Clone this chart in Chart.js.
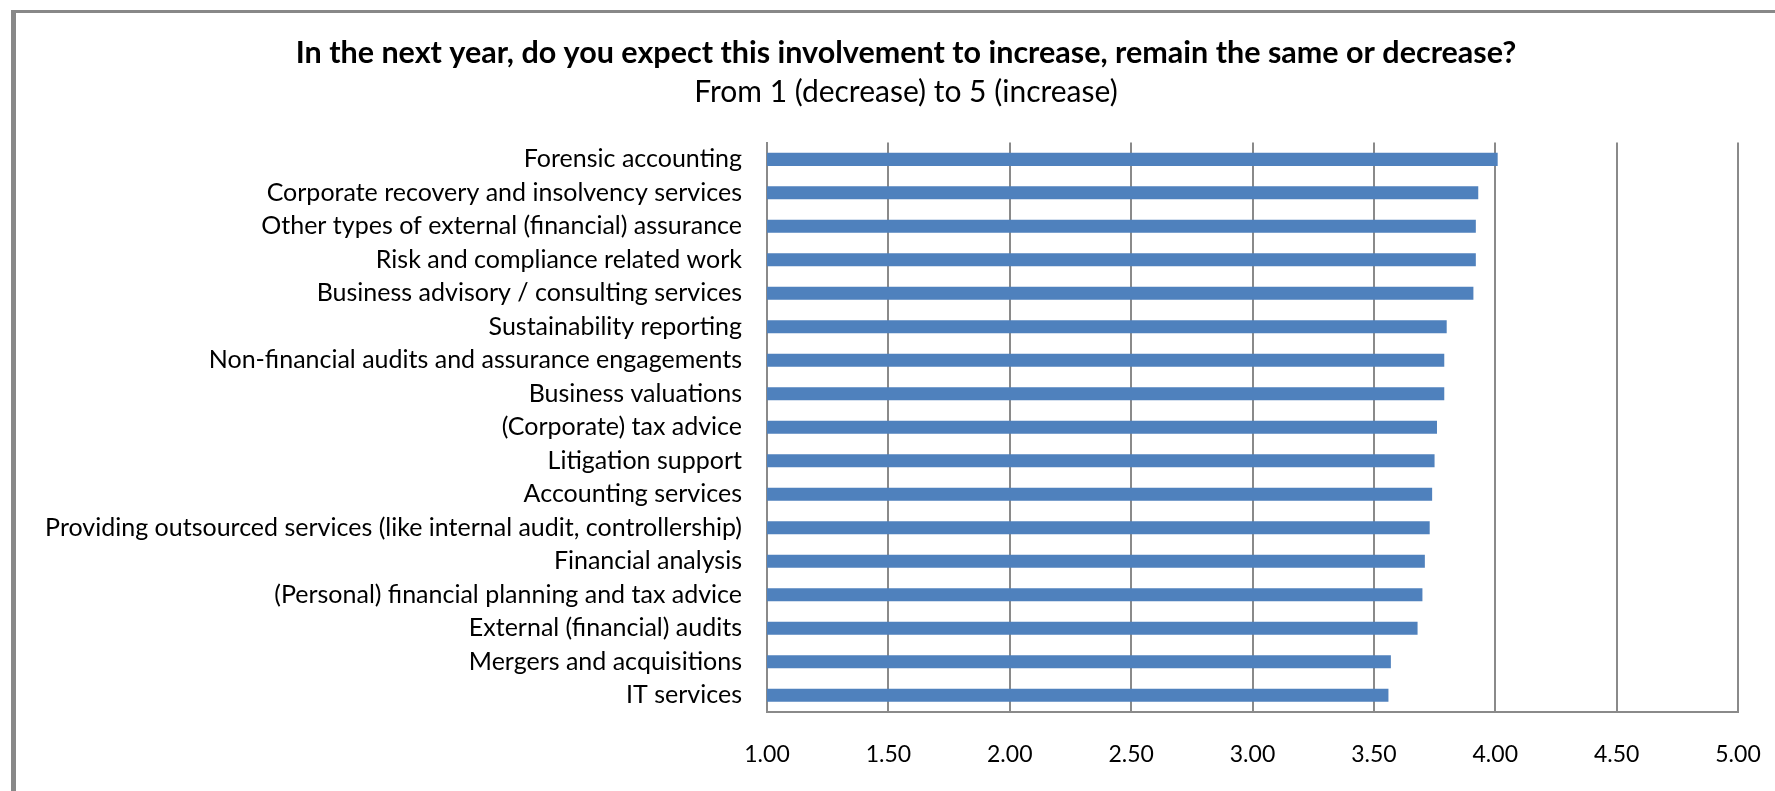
<!DOCTYPE html>
<html>
<head>
<meta charset="utf-8">
<script src="https://cdn.jsdelivr.net/npm/chart.js@4/dist/chart.umd.min.js"></script>
<style>
  html, body { margin: 0; padding: 0; background: #fff; overflow: hidden; }
  #frame {
    position: absolute; left: 11px; top: 10px; width: 2000px; height: 2000px;
    border-left: 5px solid #888; border-top: 3px solid #888; background: #fff;
  }
  #chart-wrap { position: absolute; left: 0; top: 0; width: 1775px; height: 791px; }
</style>
</head>
<body>
<div id="frame"></div>
<div id="chart-wrap"><canvas id="involvement-chart" width="1775" height="791"></canvas></div>
<script>
// survey answers, top to bottom as they appear in the chart
const categories = [
    'Forensic accounting',
    'Corporate recovery and insolvency services',
    'Other types of external (financial) assurance',
    'Risk and compliance related work',
    'Business advisory / consulting services',
    'Sustainability reporting',
    'Non-financial audits and assurance engagements',
    'Business valuations',
    '(Corporate) tax advice',
    'Litigation support',
    'Accounting services',
    'Providing outsourced services (like internal audit, controllership)',
    'Financial analysis',
    '(Personal) financial planning and tax advice',
    'External (financial) audits',
    'Mergers and acquisitions',
    'IT services'
];

// average expected change, 1 (decrease) to 5 (increase)
const scores = [4.01, 3.93, 3.92, 3.92, 3.91, 3.80, 3.79, 3.79, 3.76, 3.75, 3.74, 3.73, 3.71, 3.70, 3.68, 3.57, 3.56];

// x axis ticks
const tickValues = [1.00, 1.50, 2.00, 2.50, 3.00, 3.50, 4.00, 4.50, 5.00];

const titleText = 'In the next year, do you expect this involvement to increase, remain the same or decrease?';
const subtitleText = 'From 1 (decrease) to 5 (increase)';

const fontFamily = 'Lato, "Open Sans", sans-serif';
const gridGrey = '#8a8a8a';

new Chart(document.getElementById('involvement-chart'), {
    type: 'bar',
    data: {
        labels: categories,
        datasets: [{
            data: scores,
            backgroundColor: '#4f81bd',
            borderWidth: 0,
            categoryPercentage: 1,
            barPercentage: 0.39
        }]
    },
    options: {
        indexAxis: 'y',
        responsive: false,
        animation: false,
        devicePixelRatio: 1,
        layout: {
            padding: { top: 0, left: 37, right: 0, bottom: 0 }
        },
        plugins: {
            legend: { display: false },
            tooltip: { enabled: false },
            title: {
                display: true,
                text: titleText,
                color: '#000',
                font: { family: fontFamily, size: 30.5, weight: 'bold' },
                padding: { top: 35, bottom: 0 }
            },
            subtitle: {
                display: true,
                text: subtitleText,
                color: '#000',
                font: { family: fontFamily, size: 30 },
                padding: { top: 3, bottom: 32 }
            }
        },
        scales: {
            x: {
                min: 1,
                max: 5,
                afterBuildTicks: (scale) => {
                    scale.ticks = tickValues.map(v => ({ value: v }));
                },
                afterFit: (scale) => {
                    // keep the plot edge where the reference has it
                    scale.height = 79;
                    scale.paddingLeft = 0;
                    scale.paddingRight = 0;
                },
                grid: { color: gridGrey, lineWidth: 2, drawTicks: false },
                border: { color: gridGrey, width: 2 },
                ticks: {
                    color: '#000',
                    padding: 29,
                    maxRotation: 0,
                    font: { family: fontFamily, size: 23 },
                    callback: (value) => Number(value).toFixed(2)
                }
            },
            y: {
                afterFit: (scale) => { scale.width = 730; },
                grid: { display: false, drawTicks: false },
                border: { color: gridGrey, width: 2 },
                ticks: {
                    color: '#000',
                    padding: 25,
                    autoSkip: false,
                    font: { family: fontFamily, size: 25 }
                }
            },
            // empty strip on the right so the title stays centred like the original
            yRight: {
                type: 'category',
                axis: 'y',
                position: 'right',
                afterFit: (scale) => { scale.width = 37; },
                grid: { display: false, drawTicks: false },
                border: { display: false },
                ticks: { display: false }
            }
        }
    }
});
</script>
</body>
</html>
